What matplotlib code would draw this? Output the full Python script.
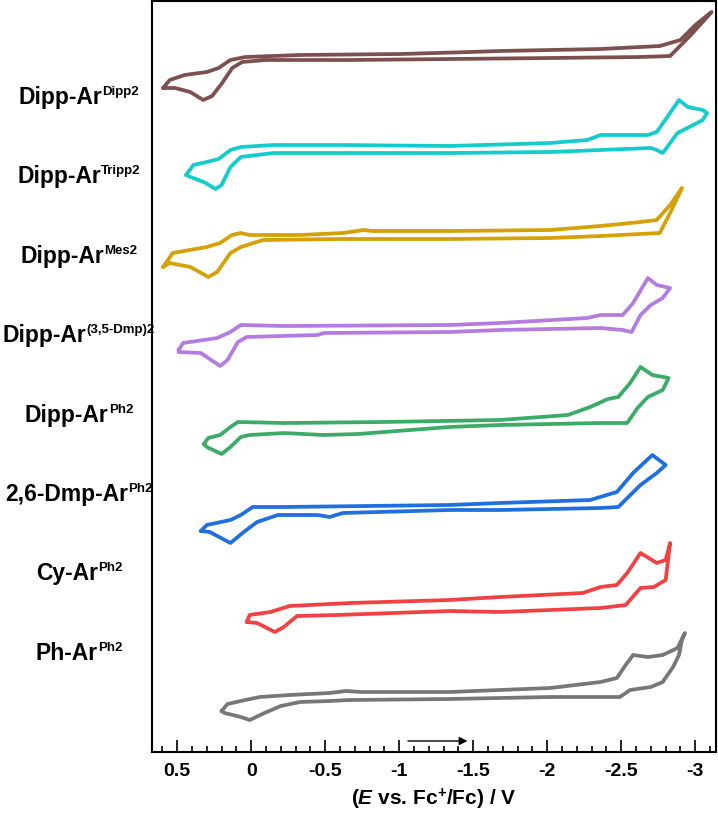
import matplotlib.pyplot as plt
from matplotlib.ticker import MultipleLocator, FuncFormatter

plt.rcParams['font.family'] = 'Liberation Sans'
plt.rcParams['mathtext.fontset'] = 'custom'
plt.rcParams['mathtext.rm'] = 'Liberation Sans:bold'
plt.rcParams['mathtext.it'] = 'Liberation Sans:italic:bold'
plt.rcParams['mathtext.bf'] = 'Liberation Sans:bold'

# compound labels (base, superscript), top to bottom
names = ["Dipp-Ar", "Dipp-Ar", "Dipp-Ar", "Dipp-Ar", "Dipp-Ar", "2,6-Dmp-Ar", "Cy-Ar", "Ph-Ar"]
sups = ["Dipp2", "Tripp2", "Mes2", "(3,5-Dmp)2", "Ph2", "Ph2", "Ph2", "Ph2"]
colors = ["#7e4f4f", "#14cccc", "#d4a106", "#b47be0", "#3aac68", "#1f6fdf", "#f04242", "#777777"]

# CV loops: potential E (V vs Fc+/Fc) and current (arb. units)
E_dipp = [0.595, 0.514, 0.412, 0.324, 0.264, 0.196, 0.128, 0.061, -0.095, -0.669, -1.345, -2.02, -2.63, -2.83,
          -2.97, -3.11, -3.0, -2.90, -2.76, -2.36, -1.68, -1.48, -1.01, -0.33, 0.04, 0.14, 0.22, 0.30, 0.45, 0.55, 0.595]
I_dipp = [-36, -36, -40, -48, -44, -31, -16, -10, -8, -8, -7, -6, -5, -4,
          17, 40, 27, 12, 6, 3, 1, 0, -2, -3, -5, -8, -16, -20, -23, -28, -36]

E_tripp = [0.44, 0.39, 0.30, 0.22, 0.14, 0.07, -0.15, -0.60, -1.34, -2.02, -2.27, -2.36, -2.68, -2.74, -2.82,
           -2.89, -2.95, -3.05, -3.08, -3.05, -2.92, -2.88, -2.83, -2.78, -2.74, -2.70, -2.36, -2.02, -1.34,
           -0.60, -0.15, 0.07, 0.14, 0.20, 0.24, 0.32, 0.41, 0.44]
I_tripp = [-30, -20, -17, -14, -5, -2, 0, 0, -1, 2, 5, 10, 10, 13, 30,
           45, 38, 35, 32, 25, 15, 12, 2, -8, -5, -3, -5, -7, -8,
           -8, -8, -12, -22, -40, -44, -37, -32, -30]

E_mes = [0.595, 0.53, 0.30, 0.21, 0.13, 0.07, 0.01, -0.33, -0.62, -0.76, -0.82, -1.34, -2.02, -2.36, -2.63,
         -2.74, -2.83, -2.91, -2.84, -2.76, -2.36, -2.02, -1.34, -0.60, -0.08, 0.07, 0.14, 0.23, 0.29, 0.41,
         0.55, 0.595]
I_mes = [-34, -20, -14, -10, -2, 0, -2, -2, 0, 3, 2, 2, 3, 7, 11,
         13, 28, 45, 23, 0, -3, -5, -6, -6, -7, -14, -20, -39, -44, -34,
         -30, -34]

E_dmp = [0.49, 0.46, 0.23, 0.14, 0.07, -0.22, -1.34, -1.68, -2.27, -2.36, -2.51, -2.58, -2.68, -2.74, -2.83,
         -2.78, -2.70, -2.63, -2.57, -2.51, -2.36, -1.68, -1.34, -0.49, -0.45, 0.03, 0.09, 0.16, 0.21, 0.34,
         0.49, 0.49]
I_dmp = [-25, -18, -13, -7, 0, -1, 0, 2, 7, 10, 10, 22, 47, 40, 37,
         27, 20, 10, -7, -5, -3, -5, -7, -8, -10, -12, -17, -35, -41, -28,
         -27, -25]

E_ph = [0.32, 0.29, 0.21, 0.14, 0.09, -0.22, -0.89, -1.68, -2.14, -2.29, -2.41, -2.48, -2.56, -2.63, -2.71,
        -2.82, -2.78, -2.68, -2.61, -2.54, -2.36, -1.68, -1.34, -0.72, -0.49, -0.22, 0.01, 0.07, 0.14, 0.20,
        0.30, 0.32]
I_ph = [-22, -16, -13, -5, 0, -1, 0, 2, 7, 15, 23, 25, 39, 55, 47,
        44, 32, 25, 14, -1, -1, -3, -5, -12, -13, -11, -13, -15, -25, -32,
        -25, -22]

E_26 = [0.34, 0.30, 0.14, 0.07, -0.01, -0.22, -1.34, -1.68, -2.29, -2.47, -2.58, -2.71, -2.80, -2.74, -2.63,
        -2.48, -2.36, -1.68, -1.34, -0.62, -0.53, -0.45, -0.18, -0.04, 0.05, 0.14, 0.28, 0.34]
I_26 = [-26, -20, -15, -10, -2, -2, 0, 2, 5, 13, 32, 50, 40, 32, 20,
        -2, -3, -5, -5, -8, -12, -10, -10, -17, -27, -38, -27, -26]

E_cy = [0.03, 0.01, -0.13, -0.26, -0.67, -1.34, -1.68, -2.24, -2.36, -2.47, -2.54, -2.63, -2.74, -2.80, -2.83,
        -2.80, -2.72, -2.63, -2.53, -2.36, -1.68, -1.34, -0.58, -0.31, -0.22, -0.16, -0.04, 0.03]
I_cy = [-19, -12, -9, -3, 0, 3, 6, 10, 16, 18, 30, 50, 40, 43, 60,
        23, 16, 15, -2, -5, -9, -8, -12, -13, -24, -29, -20, -19]

E_pha = [0.20, 0.16, 0.04, -0.06, -0.26, -0.53, -0.64, -0.74, -1.34, -2.02, -2.36, -2.47, -2.53, -2.58, -2.68,
         -2.78, -2.88, -2.93, -2.91, -2.89, -2.85, -2.78, -2.70, -2.56, -2.49, -2.02, -1.34, -0.67, -0.53,
         -0.33, -0.20, -0.09, 0.01, 0.07, 0.18, 0.20]
I_pha = [-19, -12, -8, -5, -3, -1, 1, 0, 0, 4, 10, 14, 27, 37, 35,
         37, 44, 59, 52, 37, 25, 10, 5, 2, -5, -5, -7, -8, -9,
         -10, -14, -21, -28, -25, -21, -19]

potentials = [E_dipp, E_tripp, E_mes, E_dmp, E_ph, E_26, E_cy, E_pha]
currents = [I_dipp, I_tripp, I_mes, I_dmp, I_ph, I_26, I_cy, I_pha]
offsets = [700, 607, 519, 427, 330, 247, 149, 60]
label_rows = [104, 183.4, 262.8, 342.2, 421.6, 501, 580.4, 659.8]  # baseline, px from top

arrow_start, arrow_end, arrow_y = -1.04, -1.48, 11

W, H = 718, 818
fig = plt.figure(figsize=(W / 100, H / 100), dpi=100)
ax = fig.add_axes([152 / W, 1 - 752 / H, (716 - 152) / W, 751 / H])

for E, I, off, c in zip(potentials, currents, offsets, colors):
    ax.plot(E, [v + off for v in I], color=c, lw=2.7, solid_joinstyle='round', solid_capstyle='round')

ax.set_xlim(0.67, -3.14)
ax.set_ylim(0, 751)
ax.xaxis.set_major_locator(MultipleLocator(0.5))
ax.xaxis.set_minor_locator(MultipleLocator(0.1))
ax.xaxis.set_major_formatter(FuncFormatter(lambda v, p: '%g' % round(v, 1)))
ax.tick_params(axis='x', which='major', direction='in', length=9, width=1.2, pad=8, labelsize=14)
ax.tick_params(axis='x', which='minor', direction='in', length=4.5, width=1.2)
for lab in ax.get_xticklabels():
    lab.set_fontweight('bold')
ax.set_yticks([])
for s in ax.spines.values():
    s.set_linewidth(1.5)

ax.set_xlabel(r"($\mathit{E}$ vs. Fc$^{+}$/Fc) / V", fontsize=15, fontweight='bold', labelpad=5)

ax.annotate('', xy=(arrow_end, arrow_y), xytext=(arrow_start, arrow_y),
            arrowprops=dict(arrowstyle='-|>', color='k', lw=1, mutation_scale=12))

# left-hand compound labels, centred around x = 79 px
fig.canvas.draw()
r = fig.canvas.get_renderer()
for name, sup, row in zip(names, sups, label_rows):
    t = fig.text(0, 1 - row / H, name, fontsize=16.5, fontweight='bold', ha='left', va='baseline')
    s = fig.text(0, 1 - (row - 9) / H, sup, fontsize=9.5, fontweight='bold', ha='left', va='baseline')
    wb = t.get_window_extent(r).width
    ws = s.get_window_extent(r).width
    x0 = 79 - (wb + ws) / 2
    t.set_x(x0 / W)
    s.set_x((x0 + wb) / W)

fig.savefig('out.png', dpi=100)
